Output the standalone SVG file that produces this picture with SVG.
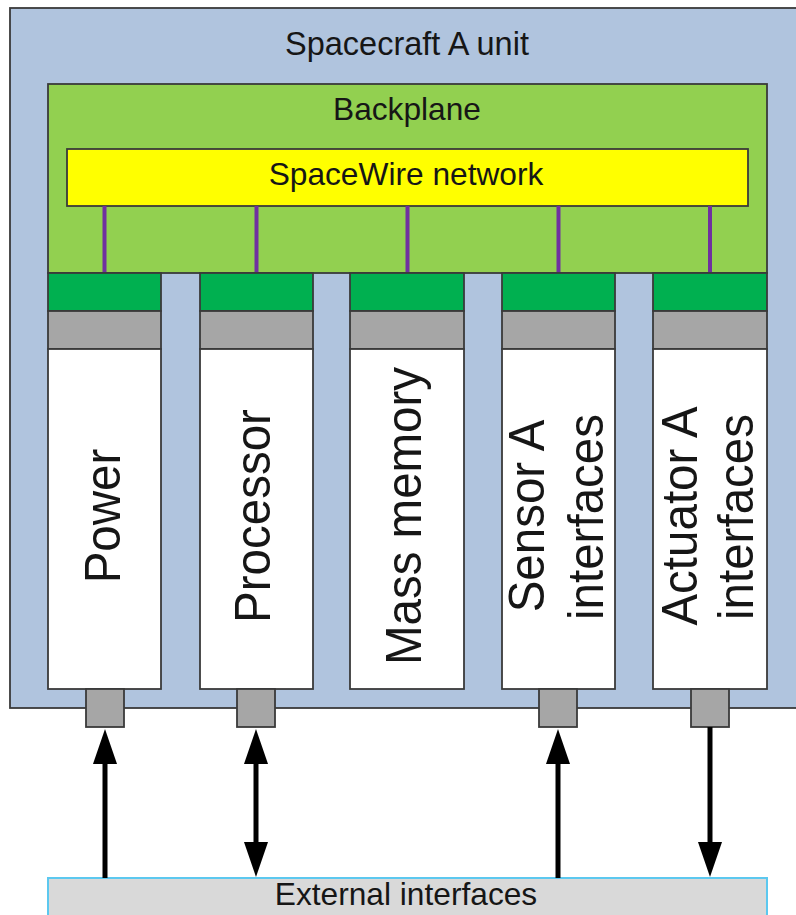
<svg xmlns="http://www.w3.org/2000/svg" width="796" height="915" viewBox="0 0 796 915">
  <style>
    text { font-family: "Liberation Sans", Arial, sans-serif; fill: #161616; }
    .title { font-size: 31.7px; text-anchor: middle; }
    .big { font-size: 32.5px; }
    .card-label { font-size: 47.5px; text-anchor: middle; }
    .edge { stroke: #3a3a3a; stroke-width: 1.8; }
    .hdr { fill: #00b050; }
    .grey { fill: #a6a6a6; }
    .body { fill: #ffffff; }
    .port { fill: #a6a6a6; stroke: #3a3a3a; stroke-width: 1.8; }
    .link { stroke: #7030a0; stroke-width: 4; }
    .flow { stroke: #000000; stroke-width: 5; fill: none; }
  </style>
  <defs>
    <marker id="head" markerUnits="userSpaceOnUse" markerWidth="36" markerHeight="24" refX="0" refY="12" orient="auto-start-reverse" viewBox="0 0 36 24">
      <path d="M0,0 L35,12 L0,24 z" fill="#000000"/>
    </marker>
  </defs>

  <!-- unit enclosure -->
  <g id="unit">
    <rect x="10" y="8" width="800" height="700" fill="#b0c4de" class="edge"/>
    <text class="title big" x="407" y="55">Spacecraft A unit</text>
  </g>

  <!-- backplane with the SpaceWire network -->
  <g id="backplane">
    <rect x="48" y="84" width="719" height="189" fill="#92d050" class="edge"/>
    <text class="title" x="407" y="120">Backplane</text>
  </g>
  <g id="spacewire">
    <rect x="67" y="149" width="681" height="57" fill="#ffff00" class="edge"/>
    <text class="title" x="406" y="185">SpaceWire network</text>
  </g>

  <!-- network links into each card -->
  <g id="links">
    <line class="link" x1="104.5" y1="206" x2="104.5" y2="273"/>
    <line class="link" x1="256.5" y1="206" x2="256.5" y2="273"/>
    <line class="link" x1="407.5" y1="206" x2="407.5" y2="273"/>
    <line class="link" x1="558.5" y1="206" x2="558.5" y2="273"/>
    <line class="link" x1="710" y1="206" x2="710" y2="273"/>
  </g>

  <!-- cards: connector header, grey strip, body -->
  <g id="card-power">
    <rect x="48" y="273" width="113" height="38" class="hdr edge"/>
    <rect x="48" y="311" width="113" height="38" class="grey edge"/>
    <rect x="48" y="349" width="113" height="340" class="body edge"/>
    <text class="card-label" transform="translate(120,516) rotate(-90) scale(1,1.07)">Power</text>
  </g>
  <g id="card-processor">
    <rect x="200" y="273" width="113" height="38" class="hdr edge"/>
    <rect x="200" y="311" width="113" height="38" class="grey edge"/>
    <rect x="200" y="349" width="113" height="340" class="body edge"/>
    <text class="card-label" transform="translate(270,516) rotate(-90) scale(1,1.07)">Processor</text>
  </g>
  <g id="card-memory">
    <rect x="350" y="273" width="114" height="38" class="hdr edge"/>
    <rect x="350" y="311" width="114" height="38" class="grey edge"/>
    <rect x="350" y="349" width="114" height="340" class="body edge"/>
    <text class="card-label" transform="translate(421,516) rotate(-90) scale(1,1.07)">Mass memory</text>
  </g>
  <g id="card-sensor">
    <rect x="502" y="273" width="113" height="38" class="hdr edge"/>
    <rect x="502" y="311" width="113" height="38" class="grey edge"/>
    <rect x="502" y="349" width="113" height="340" class="body edge"/>
    <text class="card-label" transform="translate(544,516) rotate(-90) scale(1,1.07)">Sensor A</text>
    <text class="card-label" transform="translate(603,517) rotate(-90) scale(1,1.07)">interfaces</text>
  </g>
  <g id="card-actuator">
    <rect x="653" y="273" width="114" height="38" class="hdr edge"/>
    <rect x="653" y="311" width="114" height="38" class="grey edge"/>
    <rect x="653" y="349" width="114" height="340" class="body edge"/>
    <text class="card-label" transform="translate(697,516) rotate(-90) scale(1,1.07)">Actuator A</text>
    <text class="card-label" transform="translate(753,517) rotate(-90) scale(1,1.07)">interfaces</text>
  </g>

  <!-- front-panel connectors -->
  <g id="ports">
    <rect class="port" x="86" y="689" width="38" height="38"/>
    <rect class="port" x="237" y="689" width="38" height="38"/>
    <rect class="port" x="539" y="689" width="38" height="38"/>
    <rect class="port" x="691" y="689" width="38" height="38"/>
  </g>

  <!-- external interfaces bar -->
  <g id="external">
    <rect x="48" y="878" width="719" height="45" fill="#d9d9d9" stroke="#5cc8ef" stroke-width="2"/>
    <text class="title" x="406" y="905">External interfaces</text>
  </g>

  <!-- signal flows between connectors and external interfaces -->
  <g id="connectors">
    <line class="flow" x1="105" y1="878" x2="105" y2="764" marker-end="url(#head)"/>
    <line class="flow" x1="256" y1="764" x2="256" y2="842" marker-start="url(#head)" marker-end="url(#head)"/>
    <line class="flow" x1="558" y1="878" x2="558" y2="764" marker-end="url(#head)"/>
    <line class="flow" x1="710" y1="727" x2="710" y2="842" marker-end="url(#head)"/>
  </g>
</svg>
